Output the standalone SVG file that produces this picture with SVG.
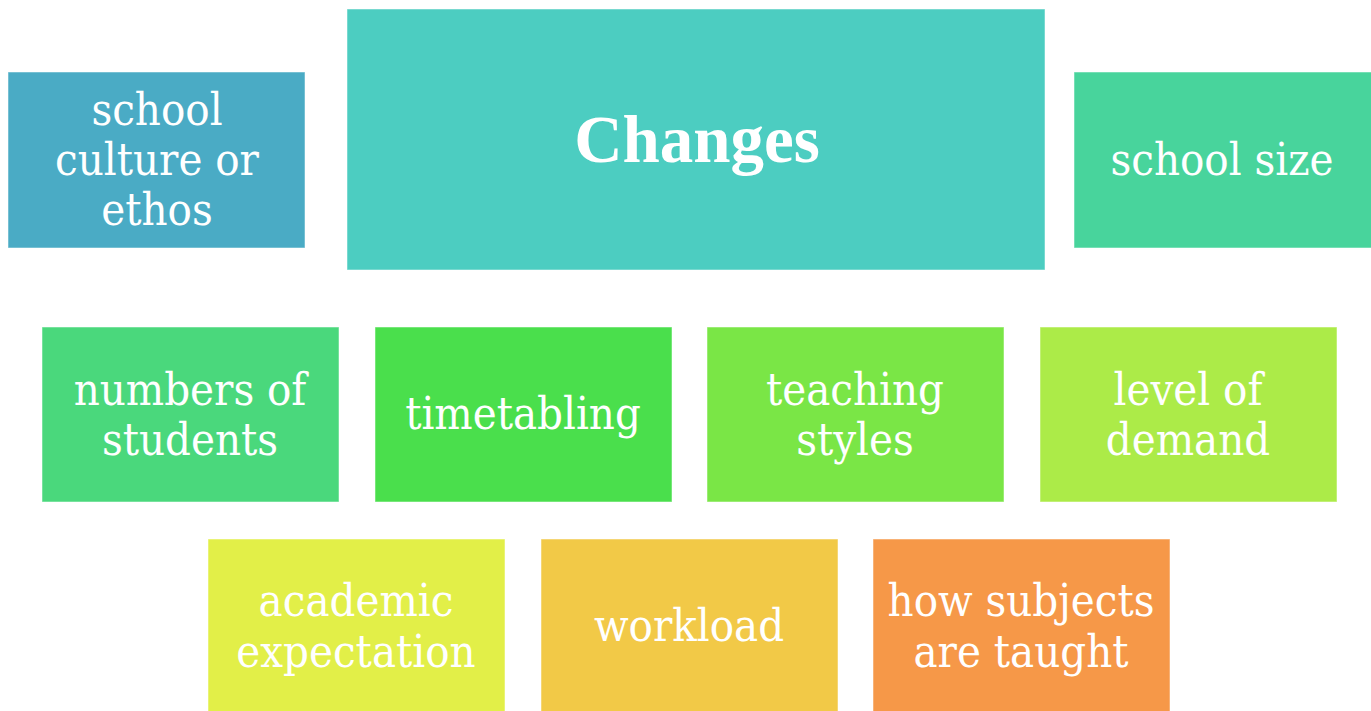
<svg xmlns="http://www.w3.org/2000/svg" width="1371" height="711" viewBox="0 0 1371 711">
<style>
rect{stroke:#ffffff;stroke-opacity:0.5;stroke-width:1}
text{fill:#ffffff;font-family:"DejaVu Serif Condensed","DejaVu Serif",serif;font-stretch:condensed;font-size:45px;text-anchor:middle}
.big{font-family:"Liberation Serif",serif;font-stretch:normal;font-weight:bold;font-size:67px}
</style>
<rect x="0" y="0" width="1371" height="711" fill="#ffffff" stroke="none"/>
<g id="connectors"></g>
<g id="school-culture"><rect x="8" y="72" width="297" height="176" fill="#4AABC5"/><text x="157" y="125">school</text><text x="157" y="175">culture or</text><text x="157" y="225">ethos</text></g>
<g id="changes"><rect x="347" y="9" width="698" height="261" fill="#4CCDC1"/><text class="big" x="697" y="162">Changes</text></g>
<g id="school-size"><rect x="1074" y="72" width="300" height="176" fill="#48D49C"/><text x="1222" y="175">school size</text></g>
<g id="numbers"><rect x="42" y="327" width="297" height="175" fill="#4AD87C"/><text x="190" y="405">numbers of</text><text x="190" y="455">students</text></g>
<g id="timetabling"><rect x="375" y="327" width="297" height="175" fill="#4ADF4C"/><text x="523" y="429">timetabling</text></g>
<g id="teaching"><rect x="707" y="327" width="297" height="175" fill="#7AE646"/><text x="855" y="405">teaching</text><text x="855" y="455">styles</text></g>
<g id="level"><rect x="1040" y="327" width="297" height="175" fill="#ACEB48"/><text x="1188" y="405">level of</text><text x="1188" y="455">demand</text></g>
<g id="academic"><rect x="208" y="539" width="297" height="175" fill="#E2EF48"/><text x="356" y="616">academic</text><text x="356" y="667">expectation</text></g>
<g id="workload"><rect x="541" y="539" width="297" height="175" fill="#F2C947"/><text x="689" y="641">workload</text></g>
<g id="how"><rect x="873" y="539" width="297" height="175" fill="#F69848"/><text x="1021" y="616">how subjects</text><text x="1021" y="667">are taught</text></g>
</svg>
